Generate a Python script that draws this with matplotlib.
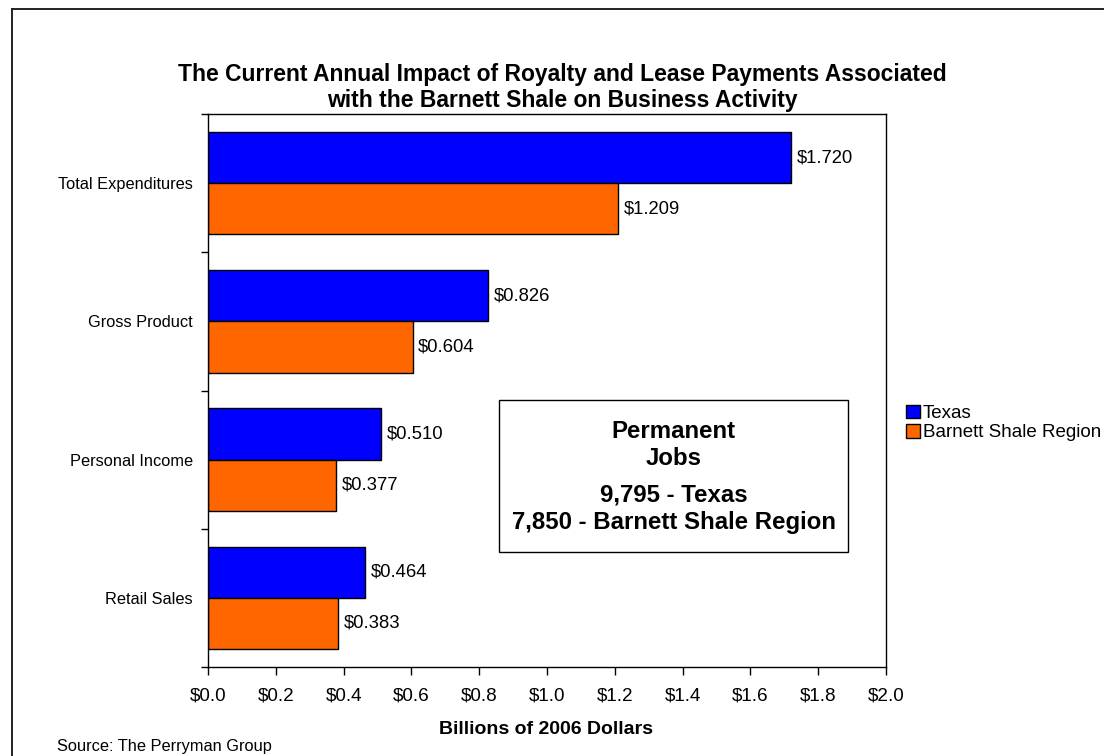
import matplotlib
matplotlib.use('Agg')
import matplotlib.pyplot as plt
from matplotlib.patches import Patch, Rectangle
from matplotlib.lines import Line2D
import numpy as np

plt.rcParams['font.family'] = ['Liberation Sans', 'DejaVu Sans']

categories = ['Total Expenditures', 'Gross Product', 'Personal Income', 'Retail Sales']
texas = [1.720, 0.826, 0.510, 0.464]
barnett = [1.209, 0.604, 0.377, 0.383]
series_names = ['Texas', 'Barnett Shale Region']
xticks = [0.0, 0.2, 0.4, 0.6, 0.8, 1.0, 1.2, 1.4, 1.6, 1.8, 2.0]
title_lines = ['The Current Annual Impact of Royalty and Lease Payments Associated',
               'with the Barnett Shale on Business Activity']
box_lines = ['Permanent', 'Jobs', '9,795 - Texas', '7,850 - Barnett Shale Region']

W, H = 1104, 756
fig = plt.figure(figsize=(W / 100, H / 100), dpi=100)
fig.patch.set_facecolor('white')

# plot area in pixels
left, right, top, bottom = 208, 886, 114, 667
ax = fig.add_axes([left / W, 1 - bottom / H, (right - left) / W, (bottom - top) / H])

blue = '#0000FF'
orange = '#FF6600'
n = len(categories)
ypos = np.arange(n)[::-1]
h = 0.37

ax.barh(ypos + h / 2, texas, height=h, color=blue, edgecolor='black', linewidth=1)
ax.barh(ypos - h / 2, barnett, height=h, color=orange, edgecolor='black', linewidth=1)

for y, v in zip(ypos + h / 2, texas):
    ax.annotate('$%.3f' % v, (v, y), xytext=(4, 0), textcoords='offset points',
                va='center', ha='left', fontsize=13.3)
for y, v in zip(ypos - h / 2, barnett):
    ax.annotate('$%.3f' % v, (v, y), xytext=(4, 0), textcoords='offset points',
                va='center', ha='left', fontsize=13.3)

ax.set_xlim(0, 2.0)
ax.set_ylim(-0.5, n - 0.5)
ax.set_xticks(xticks)
ax.set_xticklabels(['$%.1f' % t for t in xticks], fontsize=13.6)
ax.tick_params(axis='x', direction='out', length=6, width=1, pad=9)

ax.set_yticks(np.arange(n + 1) - 0.5)
ax.set_yticklabels([])
ax.tick_params(axis='y', which='major', direction='out', length=5, width=1)
ax.set_yticks(ypos, minor=True)
ax.set_yticklabels(categories, minor=True, fontsize=11.8)
ax.tick_params(axis='y', which='minor', length=0, pad=11)

for s in ax.spines.values():
    s.set_linewidth(1)
    s.set_color('black')

fig.text(546 / W, 1 - 729 / H, 'Billions of 2006 Dollars', ha='center', va='center',
         fontsize=14, fontweight='bold')

for txt, yy in zip(title_lines, [75, 101]):
    fig.text(562 / W, 1 - yy / H, txt, ha='center', va='center', fontsize=16.5,
             fontweight='bold')

fig.text(57 / W, 1 - 746 / H, 'Source: The Perryman Group', ha='left', va='center',
         fontsize=11.8)

# text box
bx0, bx1, by0, by1 = 499, 848, 400, 552
fig.add_artist(Rectangle((bx0 / W, 1 - by1 / H), (bx1 - bx0) / W, (by1 - by0) / H,
                         transform=fig.transFigure, facecolor='white', edgecolor='black',
                         linewidth=1))
for txt, yy in zip(box_lines, [432, 459, 495, 522]):
    fig.text((bx0 + bx1) / 2 / W, 1 - yy / H, txt, ha='center', va='center',
             fontsize=17.3, fontweight='bold')

# legend
handles = [Patch(facecolor=blue, edgecolor='black', linewidth=1),
           Patch(facecolor=orange, edgecolor='black', linewidth=1)]
fig.legend(handles, series_names, loc='center left', bbox_to_anchor=(906 / W, 1 - 423 / H),
           frameon=False, fontsize=13.5, handlelength=0.75, handleheight=0.75,
           handletextpad=0.15, labelspacing=0.1, borderpad=0, borderaxespad=0)

# outer frame (left and top edges visible)
fig.add_artist(Line2D([12 / W, 12 / W], [0, 1 - 9 / H], transform=fig.transFigure,
                      color='#222222', linewidth=1.4))
fig.add_artist(Line2D([12 / W, 1], [1 - 9 / H, 1 - 9 / H], transform=fig.transFigure,
                      color='#222222', linewidth=1.4))

fig.savefig('out.png', dpi=100)
